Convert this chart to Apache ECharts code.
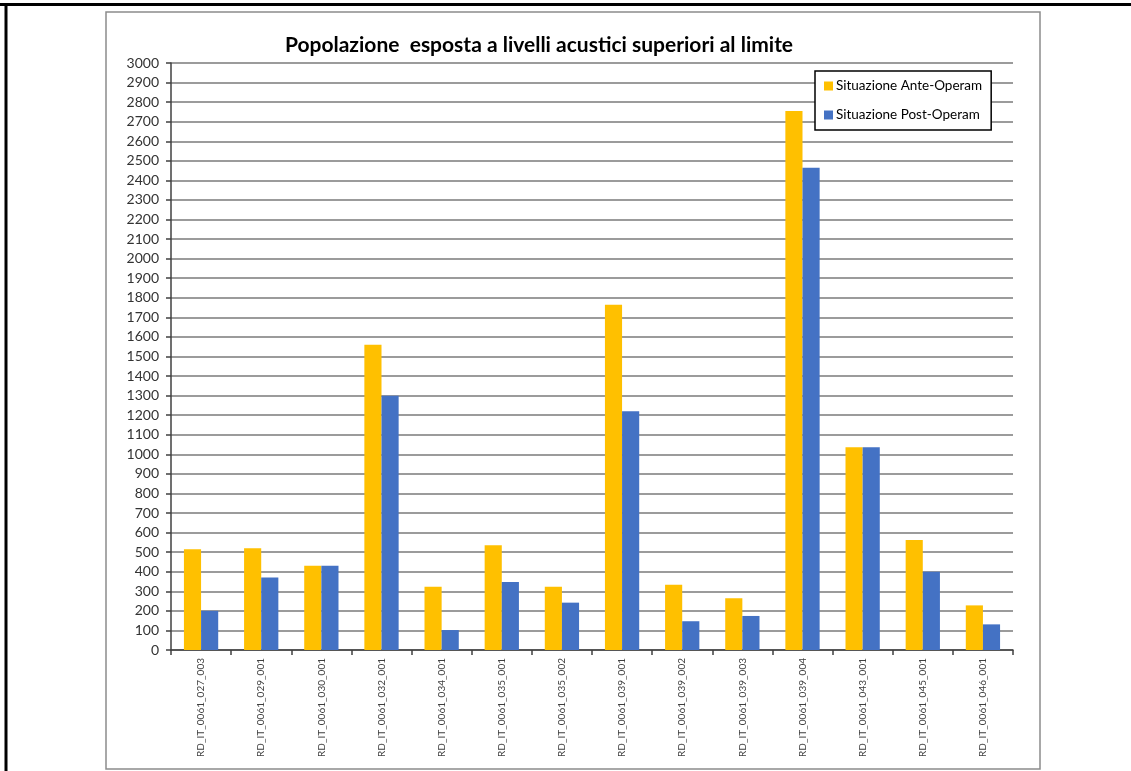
<!DOCTYPE html>
<html>
<head>
<meta charset="utf-8">
<script src="https://cdn.jsdelivr.net/npm/echarts@6/dist/echarts.min.js"></script>
<style>
html,body{margin:0;padding:0;background:#fff;}
#c{width:1131px;height:771px;}
</style>
</head>
<body>
<div id="c"></div>
<script>
const categories = ["RD_IT_0061_027_003","RD_IT_0061_029_001","RD_IT_0061_030_001","RD_IT_0061_032_001","RD_IT_0061_034_001","RD_IT_0061_035_001","RD_IT_0061_035_002","RD_IT_0061_039_001","RD_IT_0061_039_002","RD_IT_0061_039_003","RD_IT_0061_039_004","RD_IT_0061_043_001","RD_IT_0061_045_001","RD_IT_0061_046_001"];
const anteOperam = [515, 520, 430, 1560, 323, 535, 323, 1765, 334, 264, 2755, 1036, 562, 228];
const postOperam = [200, 371, 431, 1300, 102, 347, 242, 1220, 147, 174, 2465, 1036, 400, 131];
const seriesNames = ["Situazione Ante-Operam", "Situazione Post-Operam"];
const titleText = "Popolazione  esposta a livelli acustici superiori al limite";

const chart = echarts.init(document.getElementById('c'), null, {renderer:'canvas'});
const F = 'Lato, "Open Sans", sans-serif';
chart.setOption({
  animation:false,
  backgroundColor:'#fff',
  graphic:[
    {type:'rect', shape:{x:106,y:12,width:934,height:757}, style:{fill:'none', stroke:'#8c8c8c', lineWidth:1.5}, silent:true, z:-1},
    {type:'line', shape:{x1:0,y1:4.5,x2:1131,y2:4.5}, style:{stroke:'#000', lineWidth:3}, silent:true},
    {type:'line', shape:{x1:6,y1:3,x2:6,y2:771}, style:{stroke:'#000', lineWidth:3}, silent:true}
  ],
  title:{
    text:titleText, left:534, top:30, textAlign:'center',
    textStyle:{fontFamily:F, fontSize:21, fontWeight:'bold', color:'#000'}
  },
  legend:{
    orient:'vertical', left:815, top:71,
    padding:[8,9,8,9], itemGap:15, itemWidth:9, itemHeight:9,
    borderColor:'#000', borderWidth:1.5, backgroundColor:'#fff',
    icon:'rect', itemStyle:{borderWidth:0},
    textStyle:{fontFamily:F, fontSize:13.5, color:'#000', padding:[0,0,0,-2]},
    data:seriesNames
  },
  grid:{left:171, right:118, top:63, bottom:121, containLabel:false},
  xAxis:{
    type:'category', data:categories,
    axisLine:{lineStyle:{color:'#404040', width:1.5}},
    axisTick:{show:true, alignWithLabel:false, length:5, lineStyle:{color:'#404040', width:1.5}},
    axisLabel:{rotate:90, interval:0, fontFamily:F, fontSize:10, color:'#404040', margin:8}
  },
  yAxis:{
    type:'value', min:0, max:3000, interval:100,
    axisLine:{show:true, lineStyle:{color:'#404040', width:1.5}},
    axisTick:{show:true, inside:false, length:5, lineStyle:{color:'#404040', width:1.5}},
    axisLabel:{fontFamily:F, fontSize:14, color:'#333', margin:12, formatter:function(v){return String(v);}},
    splitLine:{lineStyle:{color:'#7a7a7a', width:1.5}}
  },
  series:[
    {name:seriesNames[0], type:'bar', data:anteOperam, barGap:'0%', barCategoryGap:'43%', itemStyle:{color:'#FFC000'}, z:3},
    {name:seriesNames[1], type:'bar', data:postOperam, barGap:'0%', barCategoryGap:'43%', itemStyle:{color:'#4472C4'}, z:3}
  ]
});
</script>
</body>
</html>
